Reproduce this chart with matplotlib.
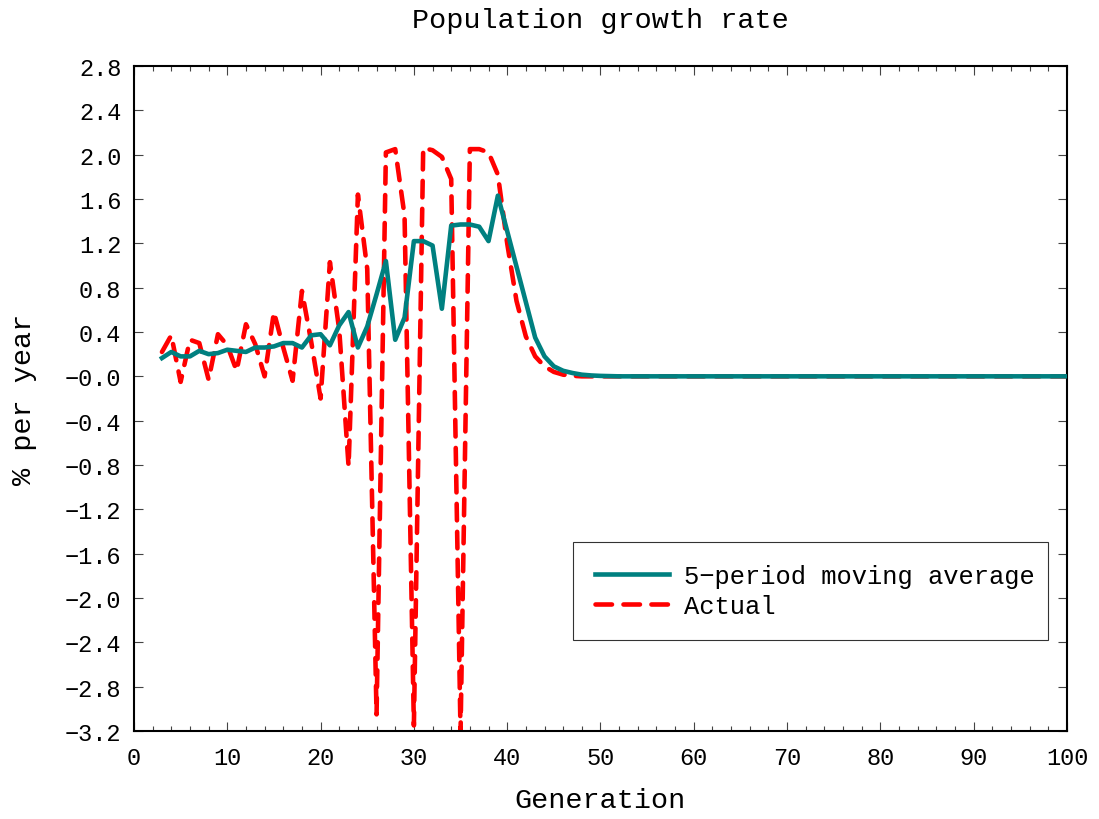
#!/usr/bin/env python3
"""Population growth rate per generation: actual rate vs. 5-period moving average."""

import matplotlib

matplotlib.use("Agg")
import matplotlib.pyplot as plt
import numpy as np
from matplotlib.ticker import FixedLocator, MultipleLocator

# generations 3..100
generation = np.arange(3, 101)

actual = [
    0.22, 0.37, -0.05, 0.33, 0.30, -0.03, 0.38, 0.28, 0.05, 0.47,
    0.29, 0.00, 0.58, 0.26, -0.04, 0.77, 0.31, -0.20, 1.03, 0.42,
    -0.81, 1.64, 0.97, -3.05, 2.02, 2.05, 1.45, -3.15, 2.06, 2.04,
    1.98, 1.78, -3.22, 2.05, 2.05, 2.02, 1.82, 1.20, 0.68, 0.36,
    0.18, 0.09, 0.04, 0.015, 0.005, 0.0, 0.0, 0.0, 0.0, 0.0,
    0.0, 0.0, 0.0, 0.0, 0.0, 0.0, 0.0, 0.0, 0.0, 0.0,
    0.0, 0.0, 0.0, 0.0, 0.0, 0.0, 0.0, 0.0, 0.0, 0.0,
    0.0, 0.0, 0.0, 0.0, 0.0, 0.0, 0.0, 0.0, 0.0, 0.0,
    0.0, 0.0, 0.0, 0.0, 0.0, 0.0, 0.0, 0.0, 0.0, 0.0,
    0.0, 0.0, 0.0, 0.0, 0.0, 0.0, 0.0, 0.0,
]

moving_avg = [
    0.165, 0.22, 0.18, 0.18, 0.23, 0.20, 0.21, 0.24, 0.23, 0.22,
    0.26, 0.26, 0.27, 0.30, 0.30, 0.26, 0.37, 0.38, 0.28, 0.46,
    0.58, 0.26, 0.45, 0.74, 1.04, 0.33, 0.53, 1.22, 1.22, 1.18,
    0.61, 1.36, 1.37, 1.37, 1.35, 1.22, 1.63, 1.31, 0.99, 0.67,
    0.35, 0.18, 0.09, 0.05, 0.03, 0.015, 0.008, 0.004, 0.002, 0.0,
    0.0, 0.0, 0.0, 0.0, 0.0, 0.0, 0.0, 0.0, 0.0, 0.0,
    0.0, 0.0, 0.0, 0.0, 0.0, 0.0, 0.0, 0.0, 0.0, 0.0,
    0.0, 0.0, 0.0, 0.0, 0.0, 0.0, 0.0, 0.0, 0.0, 0.0,
    0.0, 0.0, 0.0, 0.0, 0.0, 0.0, 0.0, 0.0, 0.0, 0.0,
    0.0, 0.0, 0.0, 0.0, 0.0, 0.0, 0.0, 0.0,
]

y_ticks = [2.8, 2.4, 2.0, 1.6, 1.2, 0.8, 0.4, 0.0, -0.4, -0.8,
           -1.2, -1.6, -2.0, -2.4, -2.8, -3.2]
y_tick_labels = ["2.8", "2.4", "2.0", "1.6", "1.2", "0.8", "0.4", "\u22120.0",
                 "\u22120.4", "\u22120.8", "\u22121.2", "\u22121.6", "\u22122.0",
                 "\u22122.4", "\u22122.8", "\u22123.2"]

TEAL = "#008080"
RED = "#ff0000"


def main() -> None:
    plt.rcParams.update(
        {
            "font.family": ["Liberation Mono", "DejaVu Sans Mono"],
            "font.size": 17,
            "axes.linewidth": 1.5,
        }
    )

    fig = plt.figure(figsize=(10.99, 8.20), dpi=100)
    ax = fig.add_axes([0.1219, 0.1073, 0.8490, 0.8110])

    ax.plot(generation, moving_avg, color=TEAL, lw=3.3, solid_joinstyle="round",
            label="5\u2212period moving average", zorder=3)
    ax.plot(generation, actual, color=RED, lw=3.3, linestyle=(0, (3.6, 2.5)),
            dash_capstyle="round", label="Actual", zorder=2)

    ax.set_xlim(0, 100)
    ax.set_ylim(-3.2, 2.8)
    ax.xaxis.set_major_locator(MultipleLocator(10))
    ax.xaxis.set_minor_locator(MultipleLocator(2))
    ax.yaxis.set_major_locator(FixedLocator(y_ticks))
    ax.set_yticklabels(y_tick_labels)

    ax.tick_params(which="both", direction="in", top=True, right=True,
                   color="#444444", width=0.8)
    ax.tick_params(which="major", length=6.5, labelsize=17)
    ax.tick_params(axis="x", which="major", pad=11)
    ax.tick_params(axis="y", which="major", pad=9)
    ax.tick_params(which="minor", length=3.6)

    ax.set_title("Population growth rate", fontsize=20.5, pad=28)
    ax.set_xlabel("Generation", fontsize=20.5, labelpad=13)
    ax.set_ylabel("% per year", fontsize=20.5, labelpad=20)

    leg = ax.legend(
        loc="lower left",
        bbox_to_anchor=(0.4705, 0.137, 0.5095, 0.144),
        mode="expand",
        fontsize=18.4,
        frameon=True,
        fancybox=False,
        handlelength=2.9,
        handletextpad=0.6,
        borderaxespad=0.0,
        borderpad=0.85,
        labelspacing=0.25,
    )
    frame = leg.get_frame()
    frame.set_edgecolor("black")
    frame.set_linewidth(0.8)

    fig.savefig("out.png", dpi=100)
    plt.close(fig)


if __name__ == "__main__":
    main()
